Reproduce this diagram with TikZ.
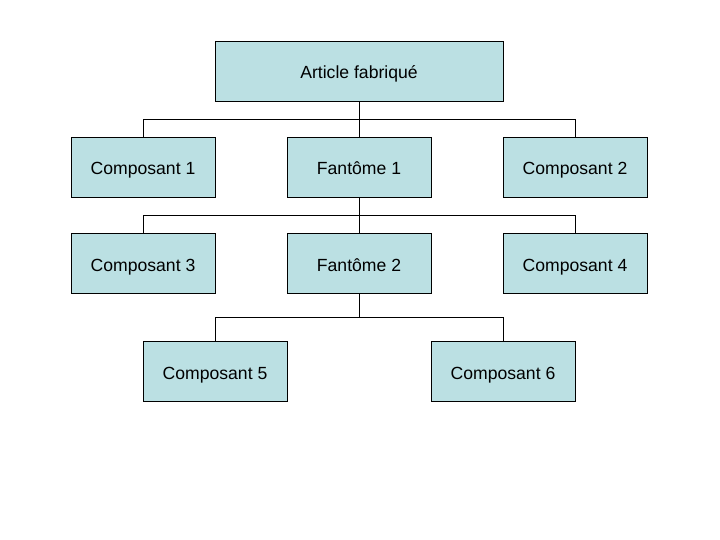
\documentclass[tikz,border=0pt]{standalone}
\usepackage{fontspec}
\setmainfont{Liberation Sans}
\definecolor{boxfill}{HTML}{BBE0E3}
\begin{document}
\begin{tikzpicture}[x=1pt,y=-1pt,
  box/.style={draw=black,fill=boxfill,line width=0.8pt,minimum width=144pt,minimum height=60pt,inner sep=0pt,text height=16pt,text depth=0pt,font=\fontsize{17.6}{19}\selectfont},
  link/.style={draw=black,line width=0.8pt}]
\useasboundingbox (0,0) rectangle (720,540);
\node[box,minimum width=288pt] (top) at (359,71) {Article fabriqué};
\node[box] (c1) at (143,167) {Composant 1};
\node[box] (f1) at (359,167) {Fantôme 1};
\node[box] (c2) at (575,167) {Composant 2};
\node[box] (c3) at (143,263) {Composant 3};
\node[box] (f2) at (359,263) {Fantôme 2};
\node[box] (c4) at (575,263) {Composant 4};
\node[box] (c5) at (215,371) {Composant 5};
\node[box] (c6) at (503,371) {Composant 6};
\coordinate (j1) at (359,119.5);
\coordinate (j2) at (359,215.5);
\coordinate (j3) at (359,317.5);
\draw[link] (top.south) -- (j1);
\draw[link] (j1) -| (c1.north);
\draw[link] (j1) -- (f1.north);
\draw[link] (j1) -| (c2.north);
\draw[link] (f1.south) -- (j2);
\draw[link] (j2) -| (c3.north);
\draw[link] (j2) -- (f2.north);
\draw[link] (j2) -| (c4.north);
\draw[link] (f2.south) -- (j3);
\draw[link] (j3) -| (c5.north);
\draw[link] (j3) -| (c6.north);
\end{tikzpicture}
\end{document}
